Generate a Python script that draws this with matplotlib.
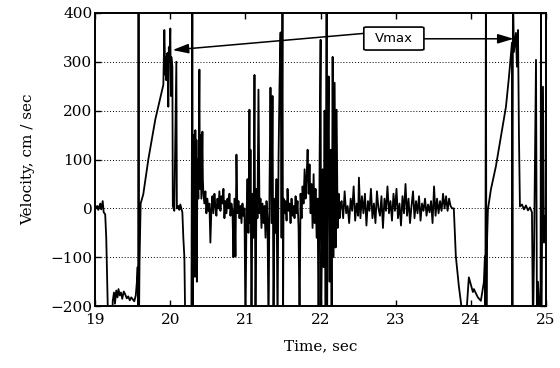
import matplotlib
matplotlib.use("Agg")
import matplotlib.pyplot as plt
from matplotlib.patches import FancyBboxPatch

# trace, (time s, velocity cm/s); values past the
# axis limits are excursions that run off the plotted range
seg_start = [
    (19.000, 0), (19.027, 5), (19.040, -3), (19.067, 10), (19.080, -2),
    (19.100, 15), (19.113, -8), (19.133, -12), (19.147, -60), (19.167, -200),
    (19.187, -240), (19.227, -240), (19.233, -190), (19.250, -172),
    (19.263, -195), (19.280, -168), (19.297, -182), (19.310, -165),
    (19.327, -178), (19.343, -172), (19.360, -185), (19.380, -170),
    (19.400, -176), (19.420, -184), (19.440, -180), (19.460, -188),
    (19.480, -182), (19.500, -186), (19.520, -190), (19.540, -178),
    (19.555, -150), (19.565, -120), (19.572, -250), (19.577, 450),
    (19.582, -250), (19.590, -110),
]

seg_peak1 = [
    (19.605, 10), (19.640, 29), (19.707, 100), (19.800, 182), (19.907, 253),
    (19.920, 365), (19.933, 273), (19.940, 310), (19.947, 262), (19.960, 318),
    (19.967, 290), (19.973, 208), (19.980, 330), (19.987, 300), (20.000, 368),
    (20.007, 230), (20.013, 310), (20.027, 290), (20.033, 5), (20.053, -5),
    (20.080, 300), (20.087, 0), (20.107, 5), (20.120, -3), (20.133, 8),
    (20.147, 0), (20.160, -8), (20.173, -60), (20.187, -100), (20.200, -250),
    (20.280, -250), (20.293, 450), (20.300, -250),
]

seg_burst1 = [
    (20.307, 150), (20.313, -120), (20.320, 120), (20.327, -140),
    (20.333, 160), (20.340, -60), (20.347, 140), (20.353, -150),
    (20.360, 100), (20.373, 20), (20.387, 284), (20.393, 40), (20.400, 150),
    (20.413, 20), (20.427, 157), (20.433, 60), (20.440, 30), (20.453, 10),
    (20.467, 35), (20.480, -10), (20.493, 20), (20.507, -5), (20.520, 10),
    (20.533, -70), (20.547, 0), (20.560, 25), (20.573, -10), (20.587, 30),
    (20.600, 5), (20.613, -15), (20.627, 20), (20.640, 0), (20.653, 35),
    (20.667, -5), (20.680, 25), (20.693, 10), (20.707, 40), (20.720, -20),
    (20.733, 15), (20.747, -10), (20.760, 20), (20.773, 0), (20.787, 30),
    (20.800, -15), (20.813, 10), (20.827, -5), (20.840, -100), (20.853, 20),
    (20.867, -98), (20.880, 110), (20.893, -10), (20.907, 15), (20.920, -20),
    (20.933, 5), (20.947, -30), (20.960, 10), (20.973, -15), (20.987, 0),
]

seg_burst2 = [
    (21.000, -250), (21.013, -20), (21.027, 60), (21.040, -50), (21.053, 202),
    (21.060, -30), (21.067, 120), (21.080, -250), (21.093, 30), (21.107, -60),
    (21.120, 273), (21.127, 20), (21.133, -250), (21.147, 40), (21.160, -20),
    (21.173, 243), (21.187, -10), (21.200, 20), (21.213, -40), (21.227, 10),
    (21.240, -30), (21.253, 5), (21.267, -60), (21.280, 15), (21.293, -20),
    (21.307, -250), (21.320, 40), (21.333, 247), (21.347, -30), (21.360, 230),
    (21.373, -250), (21.387, 20), (21.400, -50), (21.413, 60), (21.427, -250),
    (21.440, 100), (21.453, 250), (21.467, 360), (21.480, -60), (21.493, 450),
    (21.500, -250),
]

seg_burst3 = [
    (21.507, 20), (21.520, -10), (21.533, 15), (21.547, -25), (21.560, 40),
    (21.573, -5), (21.587, 10), (21.600, -30), (21.613, 20), (21.627, -15),
    (21.640, 5), (21.653, -20), (21.667, 25), (21.680, -10), (21.693, 15),
    (21.707, -40), (21.720, -250), (21.733, 30), (21.747, -20), (21.760, 45),
    (21.773, 10), (21.787, 80), (21.800, 20), (21.813, 60), (21.827, 120),
    (21.840, 30), (21.853, 90), (21.867, -10), (21.880, 50), (21.893, -40),
    (21.907, 70), (21.920, -30), (21.933, 40), (21.947, -60), (21.960, 20),
    (21.973, -250), (21.987, 100), (22.000, 345), (22.007, -250), (22.027, 80),
    (22.040, -120), (22.053, 200), (22.067, -250), (22.080, 450),
    (22.087, -250), (22.093, 50), (22.107, 270), (22.120, -150), (22.133, 120),
    (22.147, -250), (22.160, 310), (22.173, -100), (22.187, 257), (22.200, -80),
    (22.213, 202), (22.227, -40), (22.240, 30), (22.253, -20), (22.267, 10),
]

seg_quiet = [
    (22.28, 15), (22.30, -20), (22.32, 35), (22.34, -10), (22.36, 5),
    (22.38, -30), (22.40, 20), (22.42, -5), (22.44, 45), (22.46, -25),
    (22.48, 10), (22.50, -15), (22.51, 63), (22.53, -20), (22.55, 25),
    (22.57, -10), (22.59, 30), (22.61, -35), (22.63, 15), (22.65, -5),
    (22.67, 40), (22.69, -20), (22.71, 10), (22.73, -30), (22.75, 35),
    (22.77, 0), (22.79, -15), (22.81, 25), (22.83, -40), (22.85, 20),
    (22.87, -5), (22.89, 45), (22.91, -10), (22.93, 15), (22.95, -25),
    (22.97, 30), (22.99, -5), (23.01, 40), (23.03, -20), (23.05, 10),
    (23.07, -35), (23.09, 25), (23.11, -10), (23.13, 50), (23.15, -15),
    (23.17, 20), (23.19, -30), (23.21, 5), (23.23, 35), (23.25, -20),
    (23.27, 15), (23.29, -10), (23.31, 25), (23.33, -25), (23.35, 10),
    (23.37, -5), (23.39, 20), (23.41, -15), (23.43, 8), (23.45, -8),
    (23.47, 15), (23.49, -30), (23.51, 45), (23.53, -15), (23.55, 20),
    (23.57, -10), (23.59, 15), (23.61, -5), (23.63, 30), (23.65, 0),
    (23.67, 25), (23.69, -5), (23.71, 20), (23.73, 5), (23.75, 0),
]

seg_end = [
    (23.773, 0), (23.800, -98), (23.840, -159), (23.907, -240), (23.947, -200),
    (23.973, -141), (24.027, -171), (24.040, -165), (24.093, -182),
    (24.133, -189), (24.173, -151), (24.187, -98), (24.193, -250),
    (24.200, 450), (24.207, -250), (24.213, -80), (24.227, -2), (24.267, 39),
    (24.333, 86), (24.400, 147), (24.467, 208), (24.507, 269), (24.547, 339),
    (24.553, -250), (24.560, 450), (24.573, 320), (24.600, 359), (24.613, 290),
    (24.627, 365), (24.640, 150), (24.653, 4), (24.680, 8), (24.707, -2),
    (24.733, 6), (24.760, -4), (24.787, 2), (24.813, -8), (24.827, -250),
    (24.840, -100), (24.867, 304), (24.880, -250), (24.893, -150),
    (24.927, -250), (24.933, 450), (24.940, -250), (24.960, 249),
    (24.973, -70), (24.987, -16), (25.000, -40),
]

x_ticks = [19, 20, 21, 22, 23, 24, 25]
y_ticks = [-200, -100, 0, 100, 200, 300, 400]

trace = seg_start + seg_peak1 + seg_burst1 + seg_burst2 + seg_burst3 + seg_quiet + seg_end
t = [p[0] for p in trace]
v = [p[1] for p in trace]

plt.rcParams['font.family'] = ['DejaVu Serif']

fig = plt.figure(figsize=(5.6, 3.68), dpi=100)
ax = fig.add_axes([0.170, 0.168, 0.805, 0.797])

ax.plot(t, v, color='k', lw=1.3)

ax.set_xlim(19, 25)
ax.set_ylim(-200, 400)
ax.set_xticks(x_ticks)
ax.set_yticks(y_ticks)
ax.tick_params(direction='in', length=4, width=1, labelsize=11,
               top=True, right=True)
ax.tick_params(axis='x', pad=5)
ax.tick_params(axis='y', pad=2)
for s in ax.spines.values():
    s.set_linewidth(1.4)
ax.yaxis.grid(True, linestyle=(0, (1, 2)), color='k', lw=0.7)
ax.set_axisbelow(True)

ax.set_xlabel('Time, sec', fontsize=11, labelpad=9)
ax.set_ylabel('Velocity, cm / sec', fontsize=11, labelpad=11)

# Vmax label box with arrows to both peaks
box = FancyBboxPatch((22.575, 324), 0.80, 47,
                     boxstyle='round,pad=0,rounding_size=0.04',
                     fc='white', ec='k', lw=1.2, zorder=4,
                     mutation_aspect=50)
ax.add_patch(box)
ax.text(22.975, 347, 'Vmax', ha='center', va='center', fontsize=9.5,
        family='DejaVu Sans', zorder=5)
arrow = dict(arrowstyle='-|>,head_length=0.6,head_width=0.18', color='k',
             lw=1.1, mutation_scale=16, shrinkA=0, shrinkB=0)
ax.annotate('', xy=(20.03, 324), xytext=(22.575, 358), arrowprops=arrow, zorder=3)
ax.annotate('', xy=(24.57, 347), xytext=(23.375, 347), arrowprops=arrow, zorder=3)

fig.savefig('out.png', dpi=100)
